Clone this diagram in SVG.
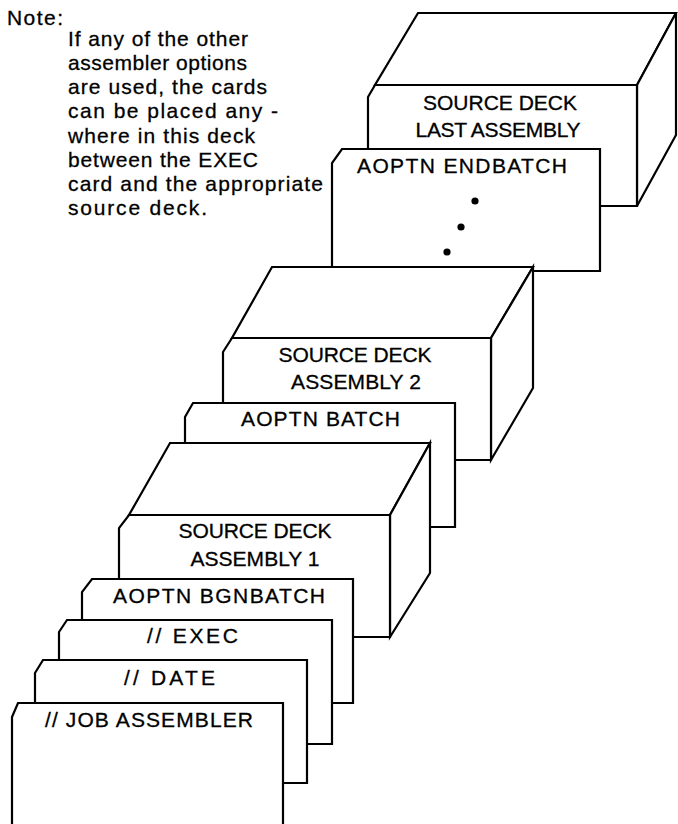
<svg xmlns="http://www.w3.org/2000/svg" width="678" height="824" viewBox="0 0 678 824">
  <style>
    .edge { fill: #ffffff; stroke: #000000; stroke-width: 2.2; stroke-linejoin: miter; }
    .lbl { font-family: "Liberation Sans", Arial, sans-serif; font-size: 21px; fill: #000000; stroke: #000000; stroke-width: 0.3; }
    .note { font-family: "Liberation Sans", Arial, sans-serif; font-size: 21px; fill: #000000; stroke: #000000; stroke-width: 0.3; }
  </style>
  <rect width="678" height="824" fill="#ffffff"/>

  <!-- explanatory note -->
  <g id="note">
    <text class="note" x="7" y="25" font-size="18" textLength="56">Note:</text>
    <text class="note" x="68" y="46" textLength="180">If any of the other</text>
    <text class="note" x="68" y="70" textLength="179">assembler options</text>
    <text class="note" x="68" y="94" textLength="199">are used, the cards</text>
    <text class="note" x="68" y="118" textLength="210">can be placed any -</text>
    <text class="note" x="68" y="143" textLength="187">where in this deck</text>
    <text class="note" x="68" y="167" textLength="190">between the EXEC</text>
    <text class="note" x="68" y="191" textLength="255">card and the appropriate</text>
    <text class="note" x="68" y="215" textLength="139">source deck.</text>
  </g>

  <!-- source deck for the last assembly (rearmost) -->
  <g id="deck-last">
    <polygon class="edge" points="418,13 676,13 637,85 375,85"/>
    <polygon class="edge" points="637,85 676,13 676,135 637,206"/>
    <polygon class="edge" points="375,85 637,85 637,206 368,206 368,97"/>
    <text class="lbl" x="500" y="110" text-anchor="middle" textLength="154">SOURCE DECK</text>
    <text class="lbl" x="498" y="137" text-anchor="middle" textLength="165">LAST ASSEMBLY</text>
  </g>

  <g id="card-endbatch">
    <polygon class="edge" points="342,149 600,149 600,271 332,271 332,163"/>
    <text class="lbl" x="357" y="173" textLength="210">AOPTN ENDBATCH</text>
    <circle cx="475" cy="201" r="3.6"/>
    <circle cx="461" cy="227" r="3.6"/>
    <circle cx="447" cy="252" r="3.6"/>
  </g>

  <!-- source deck for assembly 2 -->
  <g id="deck-2">
    <polygon class="edge" points="272,267 533,267 491,338 232,338"/>
    <polygon class="edge" points="491,338 533,267 533,388 491,460"/>
    <polygon class="edge" points="232,338 491,338 491,460 223,460 223,352"/>
    <text class="lbl" x="355" y="362" text-anchor="middle" textLength="153">SOURCE DECK</text>
    <text class="lbl" x="356" y="389" text-anchor="middle" textLength="130">ASSEMBLY 2</text>
  </g>

  <g id="card-batch">
    <polygon class="edge" points="193,403 455,403 455,527 185,527 185,417"/>
    <text class="lbl" x="241" y="426" textLength="159">AOPTN BATCH</text>
  </g>

  <!-- source deck for assembly 1 -->
  <g id="deck-1">
    <polygon class="edge" points="170,443 430,443 390,515 129,515"/>
    <polygon class="edge" points="390,515 430,443 430,573 390,637"/>
    <polygon class="edge" points="129,515 390,515 390,637 119,637 119,528"/>
    <text class="lbl" x="255" y="538" text-anchor="middle" textLength="153">SOURCE DECK</text>
    <text class="lbl" x="255" y="566" text-anchor="middle" textLength="129">ASSEMBLY 1</text>
  </g>

  <g id="card-bgnbatch">
    <polygon class="edge" points="92,579 353,579 353,703 82,703 82,592"/>
    <text class="lbl" x="113" y="603" textLength="212">AOPTN BGNBATCH</text>
  </g>

  <g id="card-exec">
    <polygon class="edge" points="67,620 332,620 332,744 59,744 59,632"/>
    <text class="lbl" x="147" y="643" textLength="91">// EXEC</text>
  </g>

  <g id="card-date">
    <polygon class="edge" points="43,660 307,660 307,783 35,783 35,673"/>
    <text class="lbl" x="124" y="685" textLength="91">// DATE</text>
  </g>

  <g id="card-job">
    <polygon class="edge" points="18,703 283,703 283,830 12,830 12,717"/>
    <text class="lbl" x="45" y="727" textLength="208">// JOB ASSEMBLER</text>
  </g>

  <!-- the deck has no connectors; the stacking order carries the sequence -->
  <g id="connectors"/>
</svg>
